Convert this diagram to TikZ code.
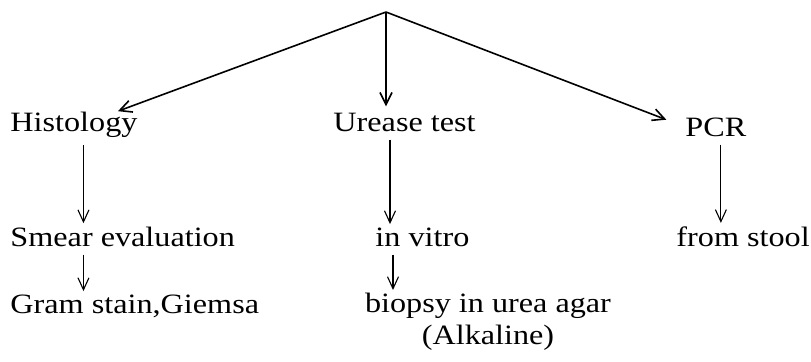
\documentclass[tikz,border=0pt]{standalone}
\usepackage{fontspec}
\setmainfont{Liberation Serif}
\usetikzlibrary{arrows.meta}

\tikzset{
  lbl/.style={font=\fontsize{14}{16}\selectfont, inner sep=0pt, xscale=1.15, anchor=base west},
  link/.style={line width=0.8pt, -{Straight Barb[length=6pt,width=6pt]}},
  down/.style={line width=0.55pt, -{Straight Barb[length=6pt,width=5.5pt]}, shorten <=4pt, shorten >=1.5pt}
}

\begin{document}
\begin{tikzpicture}[x=0.5pt,y=-0.5pt]
  \useasboundingbox (0,0) rectangle (811,361);
  \coordinate (top) at (386,12);
  % first row
  \node[lbl] (histo) at (10,131) {Histology};
  \node[lbl] (urease) at (333,131) {Urease test};
  \node[lbl] (pcr) at (685,136) {PCR};
  % second row
  \node[lbl] (smear) at (10,246) {Smear evaluation};
  \node[lbl] (vitro) at (375,246) {in vitro};
  \node[lbl] (stool) at (676,246) {from stool};
  % third row
  \node[lbl] (gram) at (10,313) {Gram stain,Giemsa};
  \node[lbl,align=center,anchor=north] (biopsy) at (488,293) {biopsy in urea agar\\(Alkaline)};

  \draw[link] (top) -- ([xshift=-10pt]histo.north east);
  \draw[link, shorten >=3pt] (top) -- (top |- urease.north);
  \draw[link, shorten >=10pt] (top) -- (pcr.west);

  \draw[down] ([xshift=4.75pt]histo.south) -- ([xshift=4.75pt]histo.south |- smear.north);
  \draw[down] ([xshift=4.75pt]histo.south |- smear.south) -- ([xshift=4.75pt]histo.south |- gram.north);
  \draw[down] ([xshift=2pt]urease.south -| top) -- ([xshift=2pt]vitro.north -| top);
  \draw[down] ([xshift=3.5pt]vitro.south -| top) -- ([xshift=3.5pt]biopsy.north -| top);
  \draw[down] ([xshift=2.5pt]pcr.south) -- ([xshift=2.5pt]pcr.south |- stool.north);
\end{tikzpicture}
\end{document}
